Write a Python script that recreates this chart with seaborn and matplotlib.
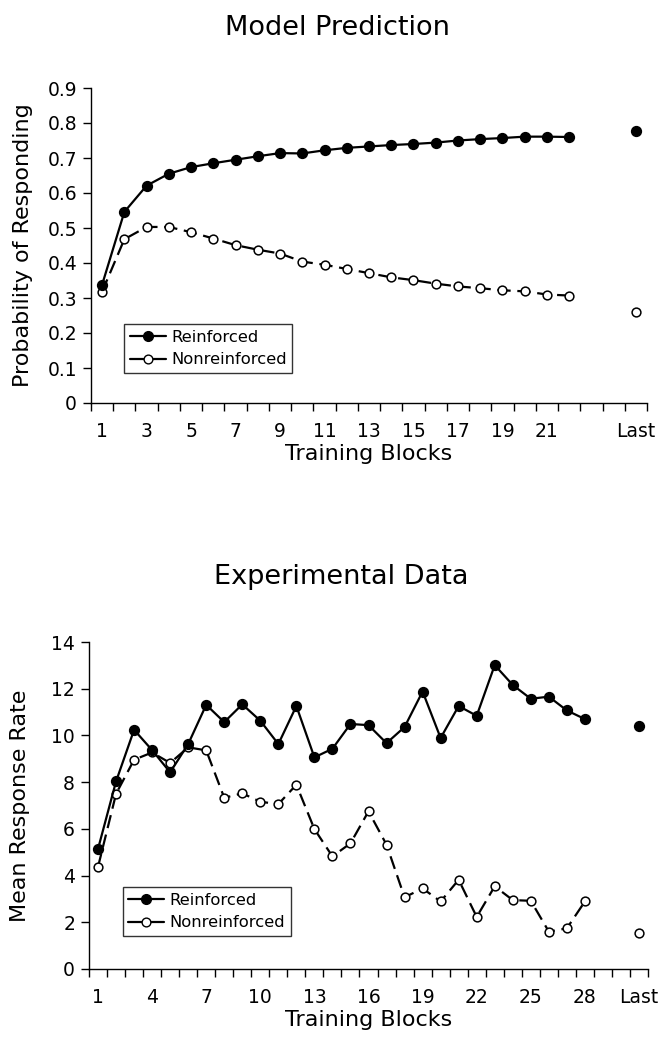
import numpy as np
import pandas as pd
import matplotlib.pyplot as plt
from matplotlib.lines import Line2D
from matplotlib.ticker import FixedLocator
import seaborn as sns

# values
model_blocks = list(range(1, 23))
model_reinforced = [0.338, 0.546, 0.621, 0.655, 0.674, 0.685, 0.695, 0.705, 0.714, 0.713, 0.722,
                    0.729, 0.733, 0.737, 0.740, 0.744, 0.750, 0.754, 0.757, 0.761, 0.761, 0.760]
model_nonreinforced = [0.318, 0.468, 0.503, 0.503, 0.488, 0.470, 0.451, 0.438, 0.427, 0.404, 0.395,
                       0.383, 0.371, 0.359, 0.351, 0.341, 0.333, 0.328, 0.322, 0.319, 0.310, 0.307]
model_last = {'Reinforced': 0.778, 'Nonreinforced': 0.261}
model_slots = 25  # category slots on the x axis, "Last" sits in the final one
model_yticks = [0, 0.1, 0.2, 0.3, 0.4, 0.5, 0.6, 0.7, 0.8, 0.9]
model_ytick_labels = ['0', '0.1', '0.2', '0.3', '0.4', '0.5', '0.6', '0.7', '0.8', '0.9']

exp_blocks = list(range(1, 29))
exp_reinforced = [5.14, 8.03, 10.24, 9.37, 8.42, 9.63, 11.31, 10.57, 11.33, 10.63, 9.63, 11.26, 9.06, 9.43,
                  10.49, 10.44, 9.67, 10.36, 11.88, 9.89, 11.26, 10.84, 13.01, 12.16, 11.57, 11.66, 11.07, 10.70]
exp_nonreinforced = [4.37, 7.50, 8.96, 9.27, 8.82, 9.49, 9.36, 7.33, 7.52, 7.16, 7.06, 7.89, 5.99, 4.82,
                     5.38, 6.75, 5.32, 3.07, 3.45, 2.89, 3.82, 2.23, 3.54, 2.95, 2.92, 1.60, 1.74, 2.89]
exp_last = {'Reinforced': 10.40, 'Nonreinforced': 1.52}
exp_slots = 31
exp_yticks = [0, 2, 4, 6, 8, 10, 12, 14]
exp_ytick_labels = ['0', '2', '4', '6', '8', '10', '12', '14']

sns.set_style('ticks')
plt.rcParams['font.family'] = ['DejaVu Sans']
for key in ['text.color', 'axes.labelcolor', 'xtick.color', 'ytick.color', 'axes.edgecolor']:
    plt.rcParams[key] = 'black'

styles = {
    'Reinforced': dict(markerfacecolor='black', linestyle='-'),
    'Nonreinforced': dict(markerfacecolor='white', linestyle=(0, (6, 3))),
}


def draw_panel(ax, blocks, reinf, nonreinf, last, n_slots, label_step, ymax, yticks, yticklabels, ylabel):
    df = pd.DataFrame({
        'block': blocks * 2,
        'value': reinf + nonreinf,
        'condition': ['Reinforced'] * len(blocks) + ['Nonreinforced'] * len(blocks),
    })
    for cond in ['Nonreinforced', 'Reinforced']:
        sub = df[df['condition'] == cond]
        sns.lineplot(data=sub, x='block', y='value', ax=ax, color='black', lw=1.6,
                     marker='o', markersize=7 if cond == 'Reinforced' else 6.3,
                     markeredgecolor='black', markeredgewidth=1.1,
                     markerfacecolor=styles[cond]['markerfacecolor'],
                     linestyle=styles[cond]['linestyle'], zorder=3)
        sns.scatterplot(x=[n_slots], y=[last[cond]], ax=ax, marker='o',
                        s=49 if cond == 'Reinforced' else 40,
                        color=styles[cond]['markerfacecolor'], edgecolor='black',
                        linewidth=1.1, zorder=3)

    ax.set_xlim(0.5, n_slots + 0.5)
    ax.set_ylim(0, ymax)
    # category labels
    tick_pos = list(range(1, n_slots + 1, label_step))
    tick_lab = [str(p) if p <= len(blocks) else '' for p in tick_pos]
    if tick_pos[-1] != n_slots:
        tick_pos.append(n_slots)
        tick_lab.append('Last')
    else:
        tick_lab[-1] = 'Last'
    ax.set_xticks(tick_pos)
    ax.set_xticklabels(tick_lab)
    ax.xaxis.set_minor_locator(FixedLocator(np.arange(0.5, n_slots + 1, 1)))
    ax.tick_params(axis='x', which='major', length=0, pad=14, labelsize=13.5)
    ax.tick_params(axis='x', which='minor', length=6, width=1, direction='out')
    ax.set_yticks(yticks)
    ax.set_yticklabels(yticklabels)
    ax.tick_params(axis='y', length=6, width=1, labelsize=13.5, pad=4)
    ax.set_xlabel('Training Blocks', fontsize=16, labelpad=2)
    ax.set_ylabel(ylabel, fontsize=16)
    ax.yaxis.set_label_coords(-0.105, 0.5)
    for side in ['top', 'right']:
        ax.spines[side].set_visible(False)
    for side in ['left', 'bottom']:
        ax.spines[side].set_linewidth(1)
        ax.spines[side].set_color('black')

    handles = [
        Line2D([], [], color='black', lw=1.6, marker='o', markersize=7,
               markerfacecolor='black', markeredgecolor='black'),
        Line2D([], [], color='black', lw=1.6, marker='o', markersize=6.3,
               markerfacecolor='white', markeredgecolor='black'),
    ]
    leg = ax.legend(handles, ['Reinforced', 'Nonreinforced'], loc='upper left',
                    bbox_to_anchor=(0.06, 0.25), borderaxespad=0, fontsize=11.8,
                    frameon=True, fancybox=False, edgecolor='black', handlelength=2.2,
                    handletextpad=0.3, borderpad=0.35, labelspacing=0.45)
    leg.get_frame().set_linewidth(1)


fig = plt.figure(figsize=(6.64, 10.5), dpi=100)
ax_top = fig.add_axes([91 / 664, 1 - 403 / 1050, 556 / 664, 315 / 1050])
ax_bot = fig.add_axes([89 / 664, 1 - 969 / 1050, 559 / 664, 327 / 1050])

draw_panel(ax_top, model_blocks, model_reinforced, model_nonreinforced, model_last,
           model_slots, 2, 0.9, model_yticks, model_ytick_labels, 'Probability of Responding')
draw_panel(ax_bot, exp_blocks, exp_reinforced, exp_nonreinforced, exp_last,
           exp_slots, 3, 14, exp_yticks, exp_ytick_labels, 'Mean Response Rate')

fig.text(337 / 664, 1 - 28 / 1050, 'Model Prediction', ha='center', va='center', fontsize=19.5)
fig.text(341 / 664, 1 - 577 / 1050, 'Experimental Data', ha='center', va='center', fontsize=19.5)

fig.savefig('out.png', dpi=100, facecolor='white')
